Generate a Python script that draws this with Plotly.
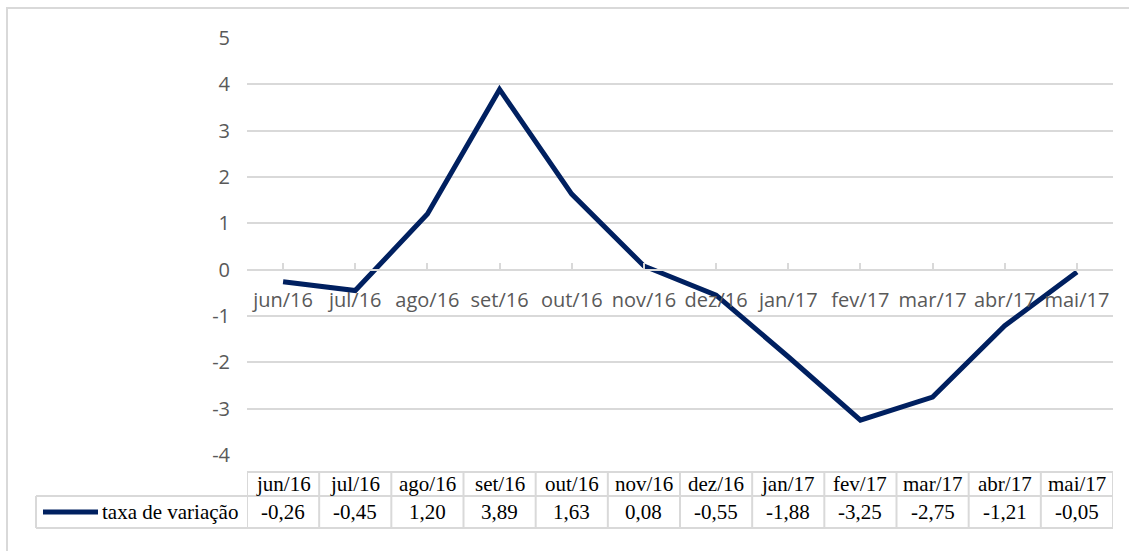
import plotly.graph_objects as go

categories = ["jun/16", "jul/16", "ago/16", "set/16", "out/16", "nov/16",
              "dez/16", "jan/17", "fev/17", "mar/17", "abr/17", "mai/17"]
values = [-0.26, -0.45, 1.20, 3.89, 1.63, 0.08, -0.55, -1.88, -3.25, -2.75, -1.21, -0.05]
series_name = "taxa de variação"
y_ticks = [5, 4, 3, 2, 1, 0, -1, -2, -3, -4]

W, H = 1129, 551
def px(x):
    return x / W
def py(y):
    return 1 - y / H

ymin, ymax = -4, 5
ydom = [py(455), py(38)]
xdom = [px(247), px(1113)]
zero_pos = ydom[0] + (ydom[1] - ydom[0]) * (0 - ymin) / (ymax - ymin)

GRID = "#d9d9d9"
LINE = "#002060"
n = len(categories)

fig = go.Figure()
fig.add_trace(go.Scatter(x=list(range(n)), y=values, mode="lines",
                         line=dict(color=LINE, width=5), name=series_name,
                         showlegend=False, cliponaxis=False, hoverinfo="skip"))

fig.update_layout(
    width=W, height=H, margin=dict(l=0, r=0, t=0, b=0, pad=0),
    paper_bgcolor="white", plot_bgcolor="white",
    xaxis=dict(domain=xdom, range=[-0.5, n - 0.5], anchor="free", position=zero_pos,
               automargin=False,
               tickmode="array", tickvals=list(range(n)), ticktext=categories,
               showgrid=False, zeroline=False, showline=True, linecolor=GRID, linewidth=2,
               ticks="inside", tickson="boundaries", ticklen=6, tickcolor=GRID, tickwidth=2,
               tickfont=dict(family="Open Sans", size=20, color="#595959"),
               ticklabelstandoff=12),
    yaxis=dict(domain=ydom, range=[ymin, ymax], tickmode="array", tickvals=y_ticks,
               ticktext=[str(v) for v in y_ticks], automargin=False,
               showgrid=True, gridcolor=GRID, gridwidth=2, zeroline=False, showline=False,
               tickfont=dict(family="Open Sans", size=20, color="#595959"),
               ticklabelstandoff=16),
)

shapes = []
# outer border
shapes.append(dict(type="rect", xref="paper", yref="paper", x0=px(7), x1=px(1140),
                   y0=py(570), y1=py(8), line=dict(color=GRID, width=2), layer="below"))
# table
top, mid, bot = 472, 496, 528
shapes.append(dict(type="line", xref="paper", yref="paper", x0=px(247), x1=px(1113),
                   y0=py(top), y1=py(top), line=dict(color=GRID, width=2)))
shapes.append(dict(type="line", xref="paper", yref="paper", x0=px(36), x1=px(1113),
                   y0=py(mid), y1=py(mid), line=dict(color=GRID, width=2)))
shapes.append(dict(type="line", xref="paper", yref="paper", x0=px(36), x1=px(1113),
                   y0=py(bot), y1=py(bot), line=dict(color=GRID, width=2)))
shapes.append(dict(type="line", xref="paper", yref="paper", x0=px(36), x1=px(36),
                   y0=py(mid), y1=py(bot), line=dict(color=GRID, width=2)))
for i in range(n + 1):
    shapes.append(dict(type="line", xref="x", yref="paper", x0=i - 0.5, x1=i - 0.5,
                       y0=py(top), y1=py(bot), line=dict(color=GRID, width=2)))
# legend key line
shapes.append(dict(type="line", xref="paper", yref="paper", x0=px(43), x1=px(98),
                   y0=py(512), y1=py(512), line=dict(color=LINE, width=5)))

annotations = []
tfont = dict(family="Liberation Serif", size=21, color="#000000")
for i, (c, v) in enumerate(zip(categories, values)):
    annotations.append(dict(x=i, y=py((top + mid) / 2), xref="x", yref="paper",
                            text=c, showarrow=False, font=tfont,
                            xanchor="center", yanchor="middle"))
    annotations.append(dict(x=i, y=py((mid + bot) / 2), xref="x", yref="paper",
                            text=f"{v:.2f}".replace(".", ","), showarrow=False, font=tfont,
                            xanchor="center", yanchor="middle"))
annotations.append(dict(x=px(100), y=py((mid + bot) / 2), xref="paper", yref="paper",
                        text=series_name, showarrow=False, font=tfont,
                        xanchor="left", yanchor="middle"))

fig.update_layout(shapes=shapes, annotations=annotations)
fig.write_html("out.html", config={"displayModeBar": False},
               post_script="document.body.style.margin='0';")
